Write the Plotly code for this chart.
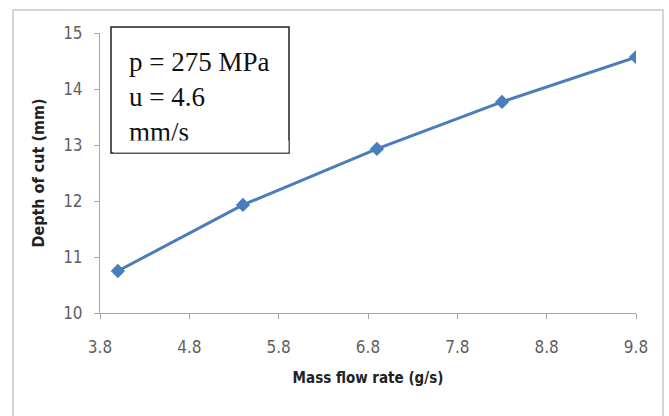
import plotly.graph_objects as go

mass_flow = [4.0, 5.4, 6.9, 8.3, 9.8]
depth_of_cut = [10.75, 11.93, 12.93, 13.77, 14.57]
x_ticks = [3.8, 4.8, 5.8, 6.8, 7.8, 8.8, 9.8]
y_ticks = [10, 11, 12, 13, 14, 15]

fig = go.Figure()
fig.add_trace(go.Scatter(
    x=mass_flow, y=depth_of_cut, mode="lines+markers",
    line=dict(color="#4a7ebb", width=3),
    marker=dict(symbol="diamond", size=11, color="#4a7ebb"),
    showlegend=False,
))

fam = "Liberation Sans Narrow, DejaVu Sans Condensed, Roboto, Arial"
tick_font = dict(family=fam, size=17, color="#5f5f5f")

fig.update_layout(
    width=669, height=416,
    margin=dict(l=100, r=33, t=33, b=103),
    paper_bgcolor="white", plot_bgcolor="white",
    xaxis=dict(
        range=[3.8, 9.8], tickvals=x_ticks, ticktext=[f"{v:.1f}" for v in x_ticks],
        showgrid=False, zeroline=False, showline=True, linecolor="#a6a6a6", linewidth=1,
        ticks="outside", ticklen=5, tickcolor="#a6a6a6", tickfont=tick_font,
        ticklabelstandoff=14,
        title=dict(text="<b>Mass flow rate (g/s)</b>",
                   font=dict(family=fam, size=15, color="#222222"), standoff=16),
    ),
    yaxis=dict(
        range=[10, 15], tickvals=y_ticks,
        showgrid=False, zeroline=False, showline=True, linecolor="#a6a6a6", linewidth=1,
        ticks="outside", ticklen=5, tickcolor="#a6a6a6", tickfont=tick_font,
        ticklabelstandoff=8,
        title=dict(text="<b>Depth of cut (mm)</b>",
                   font=dict(family=fam, size=16, color="#222222"), standoff=14),
    ),
)

# outer chart border
fig.add_shape(type="rect", xref="paper", yref="paper",
              x0=-87/536, x1=(663-100)/536, y0=-(420-313)/280, y1=(313-10)/280,
              line=dict(color="#c8c8c8", width=1.5), layer="below")

# text box frame
fig.add_shape(type="rect", xref="paper", yref="paper",
              x0=(111-100)/536, x1=(289-100)/536, y0=(313-153)/280, y1=(313-27)/280,
              line=dict(color="#222222", width=1.5), fillcolor="white", layer="above")

# text box content
fig.add_annotation(
    xref="paper", yref="paper", x=(128-100)/536, y=(313-46)/280,
    xanchor="left", yanchor="top",
    text="p = 275 MPa<br>u = 4.6<br>mm/s",
    showarrow=False, align="left", valign="top",
    font=dict(family="Liberation Serif, Times New Roman, serif", size=27, color="#111111"),
    borderpad=0,
)
# white strip hiding the bottom of the last line (clipped like the original)
fig.add_annotation(
    xref="paper", yref="paper", x=(113-100)/536, y=(313-140)/280,
    xanchor="left", yanchor="top", text=" ", showarrow=False,
    bgcolor="white", borderpad=0, width=174, height=11,
)

fig.write_html("out.html")
